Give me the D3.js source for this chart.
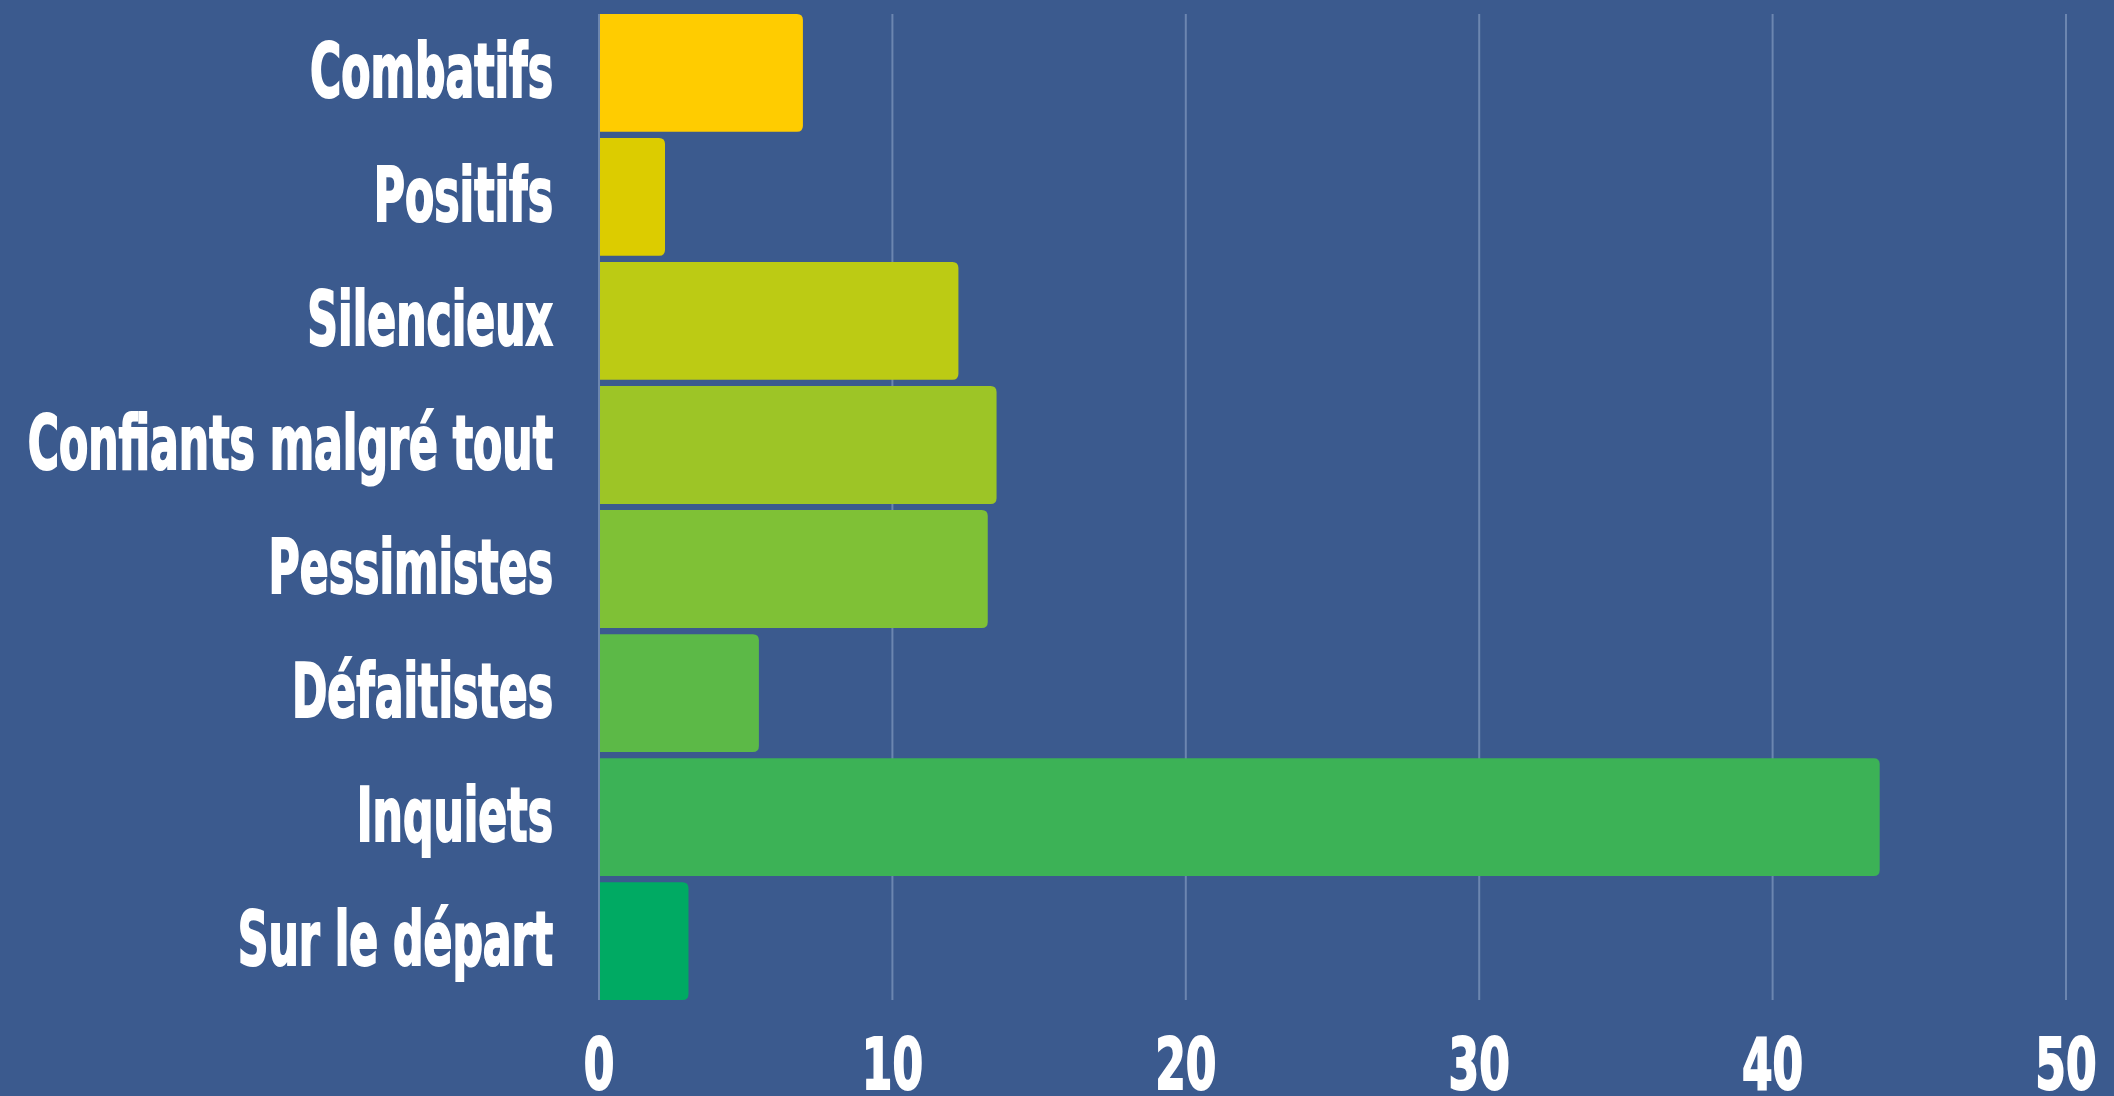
<!DOCTYPE html>
<html>
<head>
<meta charset="utf-8">
<script src="https://cdn.jsdelivr.net/npm/d3@7"></script>
<style>
    body { margin: 0; background: #3b5a8e; }
    svg { display: block; }
    .lbl { font-family: "Liberation Sans Narrow", "DejaVu Sans Condensed", sans-serif; font-weight: bold;
        fill: #fff; stroke: #fff; stroke-width: 2px; }
</style>
</head>
<body>
<svg width="2114" height="1096"></svg>
<script>
// categories and values (percent)
var categories = ["Combatifs", "Positifs", "Silencieux", "Confiants malgré tout",
    "Pessimistes", "Défaitistes", "Inquiets", "Sur le départ"];
var values = [6.95, 2.25, 12.25, 13.55, 13.25, 5.45, 43.65, 3.05];
var barColors = ["#ffcc00", "#dccc00", "#bccb14", "#9dc526", "#7fc136", "#5cb947", "#3cb256", "#00aa63"];
var xTicks = [0, 10, 20, 30, 40, 50];

var svg = d3.select("svg"),
    margin = {top: 14, right: 48, bottom: 96, left: 599},
    width = svg.attr("width") - margin.left - margin.right,
    height = svg.attr("height") - margin.top - margin.bottom,
    g = svg.append("g").attr("transform",
        "translate(" + margin.left + "," + margin.top + ")");

var data = categories.map(function (c, i) {
    return {name: c, value: values[i], color: barColors[i]};
});

var x = d3.scaleLinear().domain([0, 50]).range([0, width]),
    y = d3.scaleBand().domain(categories).range([0, height])
        .paddingInner(0.05).paddingOuter(0);

// vertical grid lines (the one at 0 doubles as the axis line)
g.selectAll(".grid")
    .data(xTicks)
    .enter().append("line")
    .attr("class", "grid")
    .attr("x1", function (d) { return x(d); })
    .attr("x2", function (d) { return x(d); })
    .attr("y1", 0)
    .attr("y2", height)
    .attr("stroke", "#6c86b0")
    .attr("stroke-width", 2);

// bars, square on the left, rounded on the right
var r = 6;
g.selectAll(".bar")
    .data(data)
    .enter().append("path")
    .attr("class", "bar")
    .attr("fill", function (d) { return d.color; })
    .attr("d", function (d) {
        var x0 = x(0) + 1, x1 = x(d.value), y0 = y(d.name), h = y.bandwidth();
        return "M" + x0 + "," + y0 +
            "H" + (x1 - r) +
            "Q" + x1 + "," + y0 + " " + x1 + "," + (y0 + r) +
            "V" + (y0 + h - r) +
            "Q" + x1 + "," + (y0 + h) + " " + (x1 - r) + "," + (y0 + h) +
            "H" + x0 + "Z";
    });

// category labels, squeezed to mimic the condensed poster font
var sx = 0.64;
g.selectAll(".cat")
    .data(data)
    .enter().append("text")
    .attr("class", "lbl cat")
    .attr("text-anchor", "end")
    .attr("font-size", 74)
    .attr("transform", function (d) {
        return "translate(-46," + (y(d.name) + y.bandwidth() / 2 + 24) + ") scale(" + sx + ",1)";
    })
    .text(function (d) { return d.name; });

// x tick labels
g.selectAll(".tick-lbl")
    .data(xTicks)
    .enter().append("text")
    .attr("class", "lbl tick-lbl")
    .attr("text-anchor", "middle")
    .attr("font-size", 72)
    .attr("transform", function (d) {
        return "translate(" + x(d) + "," + (height + 89) + ") scale(0.68,1)";
    })
    .text(function (d) { return d; });
</script>
</body>
</html>
